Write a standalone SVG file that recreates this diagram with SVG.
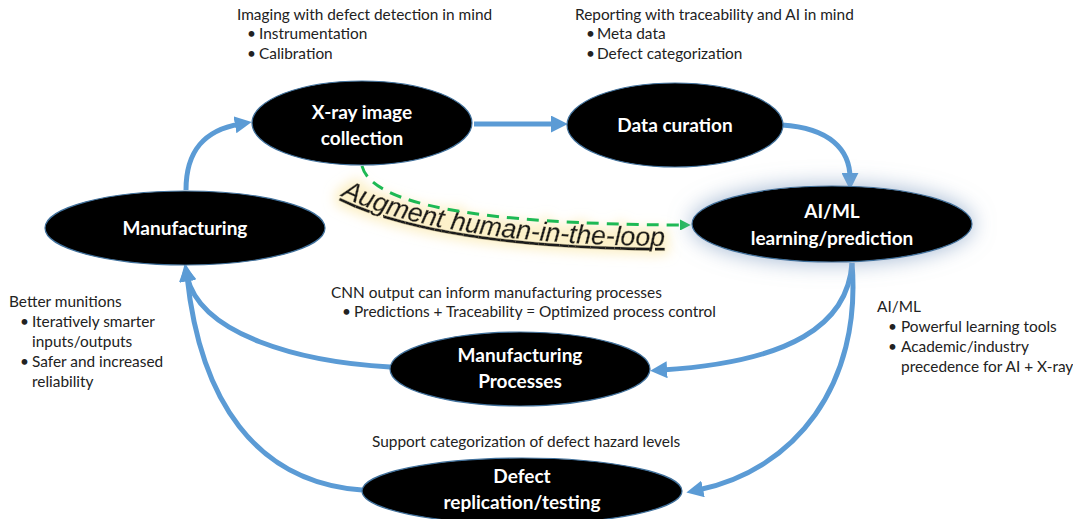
<svg xmlns="http://www.w3.org/2000/svg" width="1073" height="519" viewBox="0 0 1073 519">
<defs>
<style>
.node{fill:#000;stroke:#41719C;stroke-width:1.2}
.lbl{font-family:Lato,"Liberation Sans",sans-serif;font-weight:bold;font-size:19px;fill:#fff;text-anchor:middle}
.note{font-family:Lato,"Liberation Sans",sans-serif;font-size:15.4px;fill:#222}
.conn{fill:none;stroke:#5B9BD5;stroke-width:5;marker-end:url(#ah)}
.hitl{fill:none;stroke:#1DB954;stroke-width:3;stroke-dasharray:12 8;marker-end:url(#gh)}
</style>
<marker id="ah" viewBox="0 0 10 10" refX="3" refY="5" markerWidth="17" markerHeight="17" markerUnits="userSpaceOnUse" orient="auto">
<path d="M0,0 L10,5 L0,10 z" fill="#5B9BD5"/>
</marker>
<marker id="gh" viewBox="0 0 10 10" refX="2" refY="5" markerWidth="11" markerHeight="11" markerUnits="userSpaceOnUse" orient="auto">
<path d="M0,0 L10,5 L0,10 z" fill="#1DB954"/>
</marker>
<filter id="glowBlue" x="-30%" y="-70%" width="160%" height="240%">
<feGaussianBlur in="SourceAlpha" stdDeviation="11" result="b"/>
<feFlood flood-color="#8FA8C8" flood-opacity="0.85"/>
<feComposite in2="b" operator="in" result="g"/>
<feMerge><feMergeNode in="g"/><feMergeNode in="SourceGraphic"/></feMerge>
</filter>
<filter id="glowYellow" x="-20%" y="-60%" width="140%" height="220%">
<feMorphology in="SourceAlpha" operator="dilate" radius="4" result="d"/>
<feGaussianBlur in="d" stdDeviation="6" result="b"/>
<feFlood flood-color="#FBEBB5" flood-opacity="0.75"/>
<feComposite in2="b" operator="in" result="g"/>
<feMerge><feMergeNode in="g"/><feMergeNode in="SourceGraphic"/></feMerge>
</filter>
<path id="hitlPath" d="M341,196 Q440,245 674,246"/>
</defs>
<rect width="1073" height="519" fill="#fff"/>

<g id="connectors">
<path class="conn" d="M186,190 C186,150 205,130 240,124"/>
<path class="conn" d="M474,124 L556,124"/>
<path class="conn" d="M782,125 C830,128 850,150 850,178"/>
<path class="conn" d="M852,263 C848,325 790,362 662,370"/>
<path class="conn" d="M852,263 C862,385 795,470 698,490"/>
<path class="conn" d="M390,367 C300,362 200,335 187,276"/>
<path class="conn" d="M362,490 C255,482 200,400 187,276"/>
</g>

<g id="hitl">
<g filter="url(#glowYellow)">
<text font-family="'Liberation Sans',Arial,sans-serif" font-style="italic" font-size="26.5px" fill="#1a1a1a" stroke="#1a1a1a" stroke-width="0.4" text-decoration="underline" textLength="330" lengthAdjust="spacingAndGlyphs"><textPath href="#hitlPath">Augment human-in-the-loop</textPath></text>
</g>
<path class="hitl" d="M362,166 C372,205 480,224 682,225"/>
</g>

<g id="node-xray">
<ellipse class="node" cx="362" cy="123" rx="110" ry="42"/>
<text class="lbl" x="362" y="119">X-ray image</text>
<text class="lbl" x="362" y="145">collection</text>
</g>
<g id="node-curation">
<ellipse class="node" cx="675" cy="125" rx="108" ry="42"/>
<text class="lbl" x="675" y="132">Data curation</text>
</g>
<g id="node-aiml">
<ellipse class="node" cx="832" cy="224" rx="140" ry="38" filter="url(#glowBlue)"/>
<text class="lbl" x="832" y="218">AI/ML</text>
<text class="lbl" x="832" y="245">learning/prediction</text>
</g>
<g id="node-manufacturing">
<ellipse class="node" cx="185" cy="228" rx="140" ry="37"/>
<text class="lbl" x="185" y="235">Manufacturing</text>
</g>
<g id="node-processes">
<ellipse class="node" cx="520" cy="369" rx="130" ry="37"/>
<text class="lbl" x="520" y="362">Manufacturing</text>
<text class="lbl" x="520" y="388">Processes</text>
</g>
<g id="node-defect">
<ellipse class="node" cx="522" cy="491" rx="160" ry="33"/>
<text class="lbl" x="522" y="483">Defect</text>
<text class="lbl" x="522" y="509">replication/testing</text>
</g>

<g id="notes">
<text class="note" x="237" y="20">Imaging with defect detection in mind</text>
<text class="note" x="247" y="39">•</text><text class="note" x="259" y="39">Instrumentation</text>
<text class="note" x="247" y="59">•</text><text class="note" x="259" y="59">Calibration</text>

<text class="note" x="575" y="20">Reporting with traceability and AI in mind</text>
<text class="note" x="586" y="39">•</text><text class="note" x="597" y="39">Meta data</text>
<text class="note" x="586" y="59">•</text><text class="note" x="597" y="59">Defect categorization</text>

<text class="note" x="9" y="307">Better munitions</text>
<text class="note" x="20" y="327">•</text><text class="note" x="32" y="327">Iteratively smarter</text>
<text class="note" x="32" y="347">inputs/outputs</text>
<text class="note" x="20" y="367">•</text><text class="note" x="32" y="367">Safer and increased</text>
<text class="note" x="32" y="387">reliability</text>

<text class="note" x="331" y="298">CNN output can inform manufacturing processes</text>
<text class="note" x="342" y="317">•</text><text class="note" x="354" y="317">Predictions + Traceability = Optimized process control</text>

<text class="note" x="877" y="312">AI/ML</text>
<text class="note" x="888" y="332">•</text><text class="note" x="901" y="332">Powerful learning tools</text>
<text class="note" x="888" y="352">•</text><text class="note" x="901" y="352">Academic/industry</text>
<text class="note" x="901" y="372">precedence for AI + X-ray</text>

<text class="note" x="372" y="447">Support categorization of defect hazard levels</text>
</g>
</svg>
